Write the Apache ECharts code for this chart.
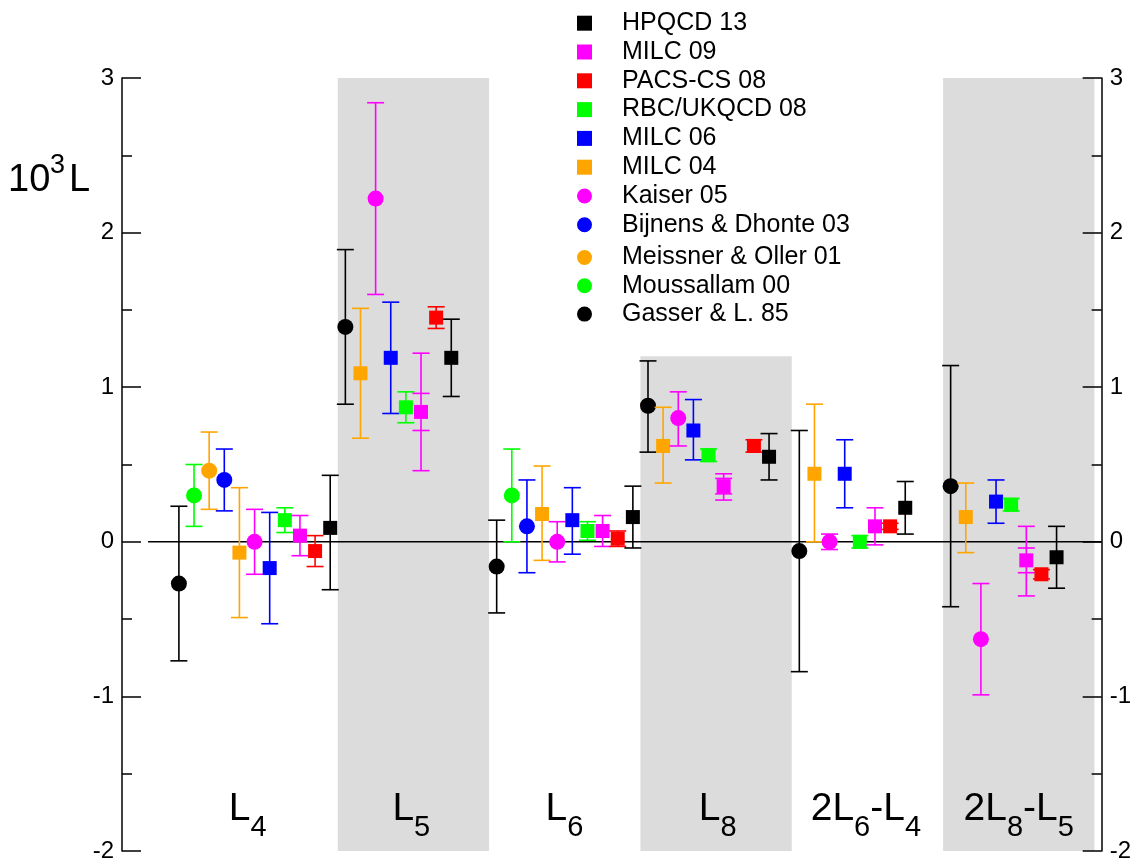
<!DOCTYPE html>
<html>
<head>
<meta charset="utf-8">
<script src="https://cdn.jsdelivr.net/npm/echarts@6/dist/echarts.min.js"></script>
<style>
html,body{margin:0;padding:0;background:#fff;}
#chart{width:1134px;height:863px;}
</style>
</head>
<body>
<div id="chart"></div>
<script>
// ---------- DATA (x = slot index along the horizontal axis, y = 10^3 L) ----------
const yTicks = [-2, -1, 0, 1, 2, 3];

// group labels (parts: [main, subscript])
const groupLabelParts = [
  [['L', '4']], [['L', '5']], [['L', '6']], [['L', '8']],
  [['2L', '6'], ['-L', '4']], [['2L', '8'], ['-L', '5']]
];
const groupLabelX = [4.55, 15.36, 25.48, 35.6, 45.4, 55.5];

// shaded bands
const bandStart = [10.5, 30.5, 50.5];
const bandEnd = [20.5, 40.5, 60.5];
const bandTop = [3, 1.2, 3];

// HPQCD 13 (black square)
const hpqcdX = [10, 18, 30, 39, 48, 58];
const hpqcdY = [0.09, 1.19, 0.16, 0.55, 0.22, -0.10];
const hpqcdLo = [-0.31, 0.94, -0.04, 0.40, 0.05, -0.30];
const hpqcdHi = [0.43, 1.44, 0.36, 0.70, 0.39, 0.10];

// MILC 09 (magenta square) with inner (statistical) bars
const milc09X = [8, 16, 28, 36, 46, 56];
const milc09Y = [0.04, 0.84, 0.07, 0.36, 0.10, -0.12];
const milc09Lo = [-0.09, 0.46, -0.03, 0.27, -0.02, -0.35];
const milc09Hi = [0.17, 1.22, 0.17, 0.44, 0.22, 0.10];
const milc09InLo = [null, 0.72, null, 0.31, null, -0.20];
const milc09InHi = [null, 0.96, null, 0.41, null, -0.04];

// PACS-CS 08 (red square)
const pacsX = [9, 17, 29, 38, 47, 57];
const pacsY = [-0.06, 1.45, 0.02, 0.62, 0.10, -0.21];
const pacsLo = [-0.16, 1.38, -0.03, 0.58, 0.08, -0.24];
const pacsHi = [0.04, 1.52, 0.07, 0.66, 0.12, -0.18];

// RBC/UKQCD 08 (green square)
const rbcX = [7, 15, 27, 35, 45, 55];
const rbcY = [0.14, 0.87, 0.07, 0.56, 0.0, 0.24];
const rbcLo = [0.06, 0.77, 0.01, 0.52, -0.04, 0.20];
const rbcHi = [0.22, 0.97, 0.13, 0.60, 0.04, 0.28];

// MILC 06 (blue square)
const milc06X = [6, 14, 26, 34, 44, 54];
const milc06Y = [-0.17, 1.19, 0.14, 0.72, 0.44, 0.26];
const milc06Lo = [-0.53, 0.83, -0.08, 0.53, 0.22, 0.12];
const milc06Hi = [0.19, 1.55, 0.35, 0.92, 0.66, 0.40];

// MILC 04 (orange square)
const milc04X = [4, 12, 24, 32, 42, 52];
const milc04Y = [-0.07, 1.09, 0.18, 0.62, 0.44, 0.16];
const milc04Lo = [-0.49, 0.67, -0.12, 0.38, 0.0, -0.07];
const milc04Hi = [0.35, 1.51, 0.49, 0.87, 0.89, 0.38];

// Kaiser 05 (magenta circle)
const kaiserX = [5, 13, 25, 33, 43, 53];
const kaiserY = [0.0, 2.22, 0.0, 0.80, 0.0, -0.63];
const kaiserLo = [-0.21, 1.60, -0.13, 0.62, -0.05, -0.99];
const kaiserHi = [0.21, 2.84, 0.13, 0.97, 0.05, -0.27];

// Bijnens & Dhonte 03 (blue circle)
const bijnensX = [3, 23];
const bijnensY = [0.40, 0.10];
const bijnensLo = [0.20, -0.20];
const bijnensHi = [0.60, 0.40];

// Meissner & Oller 01 (orange circle)
const meissnerX = [2];
const meissnerY = [0.46];
const meissnerLo = [0.21];
const meissnerHi = [0.71];

// Moussallam 00 (green circle)
const moussallamX = [1, 22];
const moussallamY = [0.30, 0.30];
const moussallamLo = [0.10, 0.0];
const moussallamHi = [0.50, 0.60];

// Gasser & L. 85 (black circle)
const gasserX = [0, 11, 21, 31, 41, 51];
const gasserY = [-0.27, 1.39, -0.16, 0.88, -0.06, 0.36];
const gasserLo = [-0.77, 0.89, -0.46, 0.58, -0.84, -0.42];
const gasserHi = [0.23, 1.89, 0.14, 1.17, 0.72, 1.14];

// ---------- CHART ----------
const FONT = '"Liberation Sans", Arial, Helvetica, sans-serif';
const X_MIN = -3.76, X_MAX = 60.98;
const ZERO_FROM = -2.04;

function errSeries(name, color, shape, xs, ys, lo, hi, inLo, inHi) {
  const data = xs.map((x, i) => [x, ys[i], lo[i], hi[i],
    inLo && inLo[i] != null ? inLo[i] : NaN,
    inHi && inHi[i] != null ? inHi[i] : NaN]);
  return {
    type: 'custom', name: name, data: data, z: 5,
    encode: { x: 0, y: 1 },
    itemStyle: { color: color },
    renderItem: function (params, api) {
      const xv = api.value(0);
      const p = api.coord([xv, api.value(1)]);
      const pl = api.coord([xv, api.value(2)]);
      const ph = api.coord([xv, api.value(3)]);
      const cw = 8.5;
      const ls = { stroke: color, lineWidth: 1.6 };
      const ch = [
        { type: 'line', shape: { x1: p[0], y1: pl[1], x2: p[0], y2: ph[1] }, style: ls },
        { type: 'line', shape: { x1: p[0] - cw, y1: pl[1], x2: p[0] + cw, y2: pl[1] }, style: ls },
        { type: 'line', shape: { x1: p[0] - cw, y1: ph[1], x2: p[0] + cw, y2: ph[1] }, style: ls }
      ];
      const il = api.value(4), ih = api.value(5);
      if (isFinite(il) && isFinite(ih)) {
        const a = api.coord([xv, il]), b = api.coord([xv, ih]);
        ch.push({ type: 'line', shape: { x1: p[0] - cw, y1: a[1], x2: p[0] + cw, y2: a[1] }, style: ls });
        ch.push({ type: 'line', shape: { x1: p[0] - cw, y1: b[1], x2: p[0] + cw, y2: b[1] }, style: ls });
      }
      if (shape === 'circle') {
        ch.push({ type: 'circle', shape: { cx: p[0], cy: p[1], r: 8 }, style: { fill: color } });
      } else {
        ch.push({ type: 'rect', shape: { x: p[0] - 7, y: p[1] - 7, width: 14, height: 14 }, style: { fill: color } });
      }
      return { type: 'group', children: ch };
    }
  };
}

const chart = echarts.init(document.getElementById('chart'), null, { renderer: 'canvas' });

const groupLabels = groupLabelParts.map(parts => parts.map(pt => '{m|' + pt[0] + '}{s|' + pt[1] + '}').join(''));

const legendStyle = {
  orient: 'vertical', left: 572, itemWidth: 15, itemHeight: 15,
  textStyle: { fontFamily: FONT, fontSize: 25, color: '#000', lineHeight: 24, padding: [0, 0, 0, 25] },
  selectedMode: false, inactiveColor: '#000'
};

function yAxisCfg(pos) {
  return {
    type: 'value', min: -2, max: 3, interval: 1, position: pos,
    axisLine: { show: true, onZero: false, lineStyle: { color: '#000', width: 1.5 } },
    axisTick: { show: true, inside: true, length: 19, lineStyle: { color: '#000', width: 1.5 } },
    minorTick: { show: true, splitNumber: 2, length: 10, lineStyle: { color: '#000', width: 1.5 } },
    axisLabel: { color: '#000', fontSize: 24, margin: 8, fontFamily: FONT,
      formatter: v => (yTicks.indexOf(v) >= 0 ? String(v) : '') },
    splitLine: { show: false }
  };
}

const option = {
  animation: false,
  backgroundColor: '#fff',
  textStyle: { fontFamily: FONT },
  grid: { left: 122, right: 30, top: 78, bottom: 11, containLabel: false },
  xAxis: { type: 'value', min: X_MIN, max: X_MAX, show: false },
  yAxis: [yAxisCfg('left'), yAxisCfg('right')],
  legend: [
    Object.assign({ top: 5.7, itemGap: 3.8, data: [
      { name: 'HPQCD 13', icon: 'rect' },
      { name: 'MILC 09', icon: 'rect' },
      { name: 'PACS-CS 08', icon: 'rect' },
      { name: 'RBC/UKQCD 08', icon: 'rect' },
      { name: 'MILC 06', icon: 'rect' },
      { name: 'MILC 04', icon: 'rect' },
      { name: 'Kaiser 05', icon: 'circle' },
      { name: 'Bijnens & Dhonte 03', icon: 'circle' }
    ] }, legendStyle),
    Object.assign({ top: 240, itemGap: 3.3, data: [
      { name: 'Meissner & Oller 01', icon: 'circle' },
      { name: 'Moussallam 00', icon: 'circle' },
      { name: 'Gasser & L. 85', icon: 'circle' }
    ] }, legendStyle)
  ],
  graphic: [
    { type: 'text', left: 8, top: 162, style: { text: '10', fontSize: 38, fontFamily: FONT, fill: '#000' } },
    { type: 'text', left: 50, top: 152, style: { text: '3', fontSize: 27, fontFamily: FONT, fill: '#000' } },
    { type: 'text', left: 69, top: 162, style: { text: 'L', fontSize: 38, fontFamily: FONT, fill: '#000' } }
  ],
  series: [
    {
      type: 'custom', name: 'bands', z: 0, silent: true,
      data: bandStart.map((s, i) => [s, bandEnd[i], bandTop[i]]),
      encode: { x: [0, 1], y: 2 },
      renderItem: function (params, api) {
        const a = api.coord([api.value(0), api.value(2)]);
        const b = api.coord([api.value(1), -2]);
        return { type: 'rect', shape: { x: a[0], y: a[1], width: b[0] - a[0], height: b[1] - a[1] },
          style: { fill: '#dcdcdc' } };
      }
    },
    {
      type: 'line', name: 'zero', z: 2, silent: true, symbol: 'none',
      data: [[ZERO_FROM, 0], [X_MAX, 0]],
      lineStyle: { color: '#000', width: 1.5 }
    },
    {
      type: 'scatter', name: 'groups', z: 3, silent: true, symbolSize: 0,
      itemStyle: { opacity: 1 },
      data: groupLabelX.map(x => [x, -1.815]),
      label: {
        show: true, position: 'inside', color: '#000', opacity: 1, textBorderWidth: 0,
        formatter: p => groupLabels[p.dataIndex],
        rich: {
          m: { fontSize: 39, fontFamily: FONT, color: '#000', lineHeight: 40, verticalAlign: 'bottom', padding: [0, 0, 14, 0] },
          s: { fontSize: 29, fontFamily: FONT, color: '#000', lineHeight: 30, verticalAlign: 'bottom' }
        }
      }
    },
    errSeries('Gasser & L. 85', '#000000', 'circle', gasserX, gasserY, gasserLo, gasserHi),
    errSeries('Moussallam 00', '#00ff00', 'circle', moussallamX, moussallamY, moussallamLo, moussallamHi),
    errSeries('Meissner & Oller 01', '#ffa500', 'circle', meissnerX, meissnerY, meissnerLo, meissnerHi),
    errSeries('Bijnens & Dhonte 03', '#0000ff', 'circle', bijnensX, bijnensY, bijnensLo, bijnensHi),
    errSeries('MILC 04', '#ffa500', 'rect', milc04X, milc04Y, milc04Lo, milc04Hi),
    errSeries('Kaiser 05', '#ff00ff', 'circle', kaiserX, kaiserY, kaiserLo, kaiserHi),
    errSeries('MILC 06', '#0000ff', 'rect', milc06X, milc06Y, milc06Lo, milc06Hi),
    errSeries('RBC/UKQCD 08', '#00ff00', 'rect', rbcX, rbcY, rbcLo, rbcHi),
    errSeries('MILC 09', '#ff00ff', 'rect', milc09X, milc09Y, milc09Lo, milc09Hi, milc09InLo, milc09InHi),
    errSeries('PACS-CS 08', '#ff0000', 'rect', pacsX, pacsY, pacsLo, pacsHi),
    errSeries('HPQCD 13', '#000000', 'rect', hpqcdX, hpqcdY, hpqcdLo, hpqcdHi)
  ]
};
chart.setOption(option);
</script>
</body>
</html>
